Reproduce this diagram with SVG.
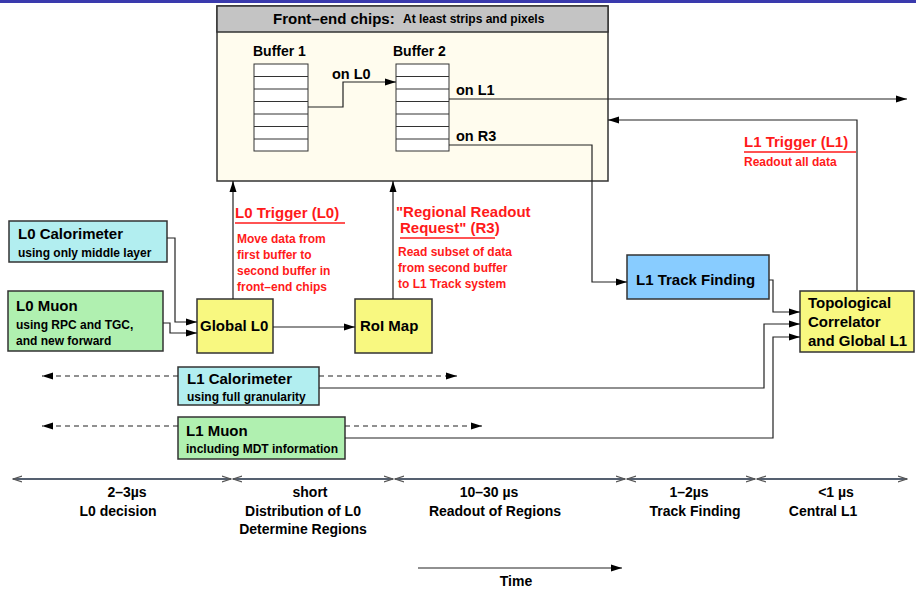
<svg xmlns="http://www.w3.org/2000/svg" width="916" height="589" viewBox="0 0 916 589">
<defs>
<marker id="ah" markerUnits="userSpaceOnUse" markerWidth="12" markerHeight="8" refX="11" refY="4" orient="auto"><path d="M0,0.5 L11,4 L0,7.5 Z" fill="#000"/></marker>
<marker id="ch" markerUnits="userSpaceOnUse" markerWidth="10" markerHeight="8" refX="9" refY="4" orient="auto-start-reverse"><path d="M0,1 L9,4 L0,7" fill="none" stroke="#555" stroke-width="1.2"/></marker>
<style>
text{font-family:"Liberation Sans",Arial,sans-serif;font-weight:bold;fill:#000}
.t15{font-size:15px}
.t14{font-size:14.5px}
.t13{font-size:14px}
.t11{font-size:12px}
.tt{font-size:14px}
.red{fill:#ff1a1a}
.box{stroke:#333;stroke-width:1.5}
.cyan{fill:#b2eef0}
.green{fill:#b0f0b0}
.yellow{fill:#f8f880}
.blue{fill:#88ccff}
.conn{fill:none;stroke:#222;stroke-width:1.2}
.dash{fill:none;stroke:#222;stroke-width:1.2;stroke-dasharray:5,4}
.buf{fill:#fff;stroke:#333;stroke-width:1}
.tl{stroke:#556070;stroke-width:2}
.ul{stroke:#ff1a1a;stroke-width:1.5}
</style>
</defs>
<rect x="0" y="0" width="916" height="3" fill="#3a3aad"/>

<g id="frontend">
<rect x="217" y="6" width="391" height="175" fill="#fffcee" class="box"/>
<rect x="217" y="6" width="391" height="26" fill="#c4c4c4" class="box"/>
<text x="273" y="24" class="t15">Front–end chips:</text>
<text x="403" y="23" class="t11">At least strips and pixels</text>
<text x="253" y="56" class="t13">Buffer 1</text>
<text x="393" y="56" class="t13">Buffer 2</text>
<g class="buf">
<rect x="254" y="64" width="54" height="87"/>
<path d="M254,76.5H308M254,89H308M254,101.5H308M254,114H308M254,126.5H308M254,139H308"/>
<rect x="396" y="64" width="53" height="87"/>
<path d="M396,76.5H449M396,89H449M396,101.5H449M396,114H449M396,126.5H449M396,139H449"/>
</g>
<text x="332" y="79" class="t14">on L0</text>
<text x="456" y="95" class="t14">on L1</text>
<text x="456" y="141" class="t14">on R3</text>
</g>

<g id="l0calo">
<rect x="9" y="221" width="158" height="41" class="box cyan"/>
<text x="18" y="239" class="t15">L0 Calorimeter</text>
<text x="18" y="257" class="t11">using only middle layer</text>
</g>
<g id="l0muon">
<rect x="8" y="291" width="155" height="60" class="box green"/>
<text x="16" y="311" class="t15">L0 Muon</text>
<text x="16" y="329" class="t11">using RPC and TGC,</text>
<text x="16" y="345" class="t11">and new forward</text>
</g>
<g id="globall0">
<rect x="197" y="299" width="76" height="54" class="box yellow"/>
<text x="200" y="331" class="t15">Global L0</text>
</g>
<g id="roimap">
<rect x="355" y="299" width="77" height="54" class="box yellow"/>
<text x="360" y="331" class="t15">RoI Map</text>
</g>
<g id="l1track">
<rect x="627" y="255" width="142" height="44" class="box blue"/>
<text x="636" y="285" class="t15">L1 Track Finding</text>
</g>
<g id="topo">
<rect x="800" y="291" width="114" height="61" class="box yellow"/>
<text x="808" y="308" class="t15">Topological</text>
<text x="808" y="327" class="t15">Correlator</text>
<text x="808" y="346" class="t15">and Global L1</text>
</g>
<g id="l1calo">
<rect x="178" y="367" width="141" height="38" class="box cyan"/>
<text x="187" y="384" class="t15">L1 Calorimeter</text>
<text x="187" y="401" class="t11">using full granularity</text>
</g>
<g id="l1muon">
<rect x="178" y="417" width="167" height="42" class="box green"/>
<text x="186" y="436" class="t15">L1 Muon</text>
<text x="186" y="453" class="t11">including MDT information</text>
</g>

<g id="labels">
<text x="235" y="218" class="t15 red">L0 Trigger (L0)</text>
<line x1="235" y1="223" x2="345" y2="223" class="ul"/>
<text x="237" y="243" class="t11 red">Move data from</text>
<text x="237" y="259" class="t11 red">first buffer to</text>
<text x="237" y="275" class="t11 red">second buffer in</text>
<text x="237" y="291" class="t11 red">front–end chips</text>
<text x="396" y="217" class="t15 red">"Regional Readout</text>
<text x="400" y="233" class="t15 red">Request" (R3)</text>
<line x1="400" y1="238" x2="495" y2="238" class="ul"/>
<text x="398" y="256" class="t11 red">Read subset of data</text>
<text x="398" y="272" class="t11 red">from second buffer</text>
<text x="398" y="288" class="t11 red">to L1 Track system</text>
<text x="744" y="147" class="t15 red">L1 Trigger (L1)</text>
<line x1="744" y1="152" x2="856" y2="152" class="ul"/>
<text x="744" y="166" class="t11 red">Readout all data</text>
</g>

<g id="connectors">
<path d="M308,107H343V82H396" class="conn" marker-end="url(#ah)"/>
<path d="M449,99H907" class="conn" marker-end="url(#ah)"/>
<path d="M449,145H592V282H627" class="conn" marker-end="url(#ah)"/>
<path d="M857,291V120H608" class="conn" marker-end="url(#ah)"/>
<path d="M233,299V181" class="conn" marker-end="url(#ah)"/>
<path d="M393,299V181" class="conn" marker-end="url(#ah)"/>
<path d="M167,238H175V322H197" class="conn" marker-end="url(#ah)"/>
<path d="M163,323H170V333H197" class="conn" marker-end="url(#ah)"/>
<path d="M273,327H355" class="conn" marker-end="url(#ah)"/>
<path d="M769,280H773V312H800" class="conn" marker-end="url(#ah)"/>
<path d="M319,388H764V324H800" class="conn" marker-end="url(#ah)"/>
<path d="M345,438H773V337H800" class="conn" marker-end="url(#ah)"/>
<path d="M178,376H42" class="dash" marker-end="url(#ah)"/>
<path d="M319,376H457" class="dash" marker-end="url(#ah)"/>
<path d="M178,426H42" class="dash" marker-end="url(#ah)"/>
<path d="M345,426H482" class="dash" marker-end="url(#ah)"/>
</g>

<g id="timeline">
<line x1="13" y1="479" x2="231" y2="479" class="tl" marker-start="url(#ch)" marker-end="url(#ch)"/>
<line x1="233" y1="479" x2="393" y2="479" class="tl" marker-start="url(#ch)" marker-end="url(#ch)"/>
<line x1="395" y1="479" x2="625" y2="479" class="tl" marker-start="url(#ch)" marker-end="url(#ch)"/>
<line x1="627" y1="479" x2="755" y2="479" class="tl" marker-start="url(#ch)" marker-end="url(#ch)"/>
<line x1="757" y1="479" x2="907" y2="479" class="tl" marker-start="url(#ch)" marker-end="url(#ch)"/>
<g class="tt" text-anchor="middle">
<text x="127" y="497">2–3µs</text>
<text x="118" y="516">L0 decision</text>
<text x="310" y="497">short</text>
<text x="303" y="516">Distribution of L0</text>
<text x="303" y="534">Determine Regions</text>
<text x="489" y="497">10–30 µs</text>
<text x="495" y="516">Readout of Regions</text>
<text x="689" y="497">1–2µs</text>
<text x="695" y="516">Track Finding</text>
<text x="836" y="497">&lt;1 µs</text>
<text x="823" y="516">Central L1</text>
<text x="516" y="586">Time</text>
</g>
<path d="M418,568H622" class="conn" marker-end="url(#ah)"/>
</g>
</svg>
